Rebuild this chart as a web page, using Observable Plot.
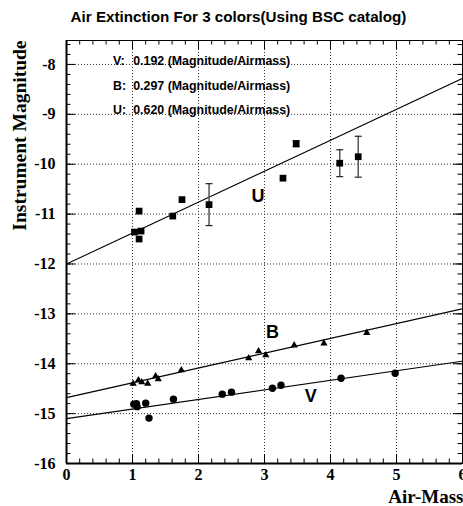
<!DOCTYPE html>
<html><head><meta charset="utf-8">
<script src="https://cdn.jsdelivr.net/npm/d3@7"></script>
<script src="https://cdn.jsdelivr.net/npm/@observablehq/plot@0.6"></script>
<style>body{margin:0;background:#fff;}</style>
</head><body><div id="chart"></div>
<script>
// ---- data ----
const uAir = [1.03, 1.10, 1.13, 1.10, 1.61, 1.75, 2.16, 3.28, 3.48, 4.14, 4.42];
const uMag = [-11.36, -10.94, -11.34, -11.50, -11.04, -10.71, -10.81, -10.28, -9.59, -9.98, -9.85];
const uErr = [0, 0, 0, 0, 0, 0, 0.42, 0, 0.06, 0.27, 0.41];
const bAir = [1.01, 1.09, 1.14, 1.23, 1.35, 1.39, 1.74, 2.76, 2.91, 3.02, 3.45, 3.90, 4.55];
const bMag = [-14.40, -14.33, -14.37, -14.40, -14.25, -14.31, -14.13, -13.89, -13.75, -13.83, -13.63, -13.59, -13.38];
const vAir = [1.02, 1.06, 1.07, 1.20, 1.25, 1.62, 2.36, 2.50, 3.12, 3.25, 4.16, 4.98];
const vMag = [-14.81, -14.80, -14.86, -14.79, -15.09, -14.71, -14.61, -14.57, -14.49, -14.43, -14.29, -14.19];
const series = ["V", "B", "U"];
const slopes = [0.192, 0.297, 0.620];
const intercepts = [-15.10, -14.68, -12.00];
const labelAir = [3.70, 3.12, 2.90];
const labelMag = [-14.65, -13.37, -10.65];
const xTicks = [0, 1, 2, 3, 4, 5, 6];
const yTicks = [-16, -15, -14, -13, -12, -11, -10, -9, -8];
const title = "Air Extinction For 3 colors(Using BSC catalog)";
const xLabel = "Air-Mass";
const yLabel = "Instrument Magnitude";
const legendUnit = "(Magnitude/Airmass)";

// ---- layout ----
const W = 463, H = 506, mL = 66, mR = 1, mT = 40, mB = 43;
const fw = W - mL - mR, fh = H - mT - mB;
const xDomain = [0, 6], yDomain = [-16, -7.52];
const serif = "Liberation Serif", sans = "Liberation Sans";

const uPts = uAir.map((a, i) => ({a, m: uMag[i], e: uErr[i]}));
const uErrPts = uPts.filter(d => d.e > 0);
const bPts = bAir.map((a, i) => ({a, m: bMag[i]}));
const vPts = vAir.map((a, i) => ({a, m: vMag[i]}));
const fitData = series.flatMap((s, i) => xDomain.map(x => ({s, x, y: intercepts[i] + slopes[i] * x})));
const labels = series.map((s, i) => ({s, a: labelAir[i], m: labelMag[i]}));

const minorX = d3.range(0, 6.0001, 0.2).map(v => +v.toFixed(2));
const minorY = d3.range(-16, -7.5, 0.2).map(v => +v.toFixed(2));
const capSymbol = {draw(ctx) { ctx.moveTo(-3.5, 0); ctx.lineTo(3.5, 0); }};
const gridX = xTicks.filter(v => v > 0 && v < 6);
const gridY = yTicks.filter(v => v > -16);

const majLen = 9, minLen = 4.5;
const tickStyle = {stroke: "black", strokeWidth: 1};
const legendRowDy = [24.5, 49.3, 73.7];
const legendStyle = {frameAnchor: "top-left", lineAnchor: "bottom", textAnchor: "start", fontFamily: sans, fontWeight: "bold", fontSize: 12.4, fill: "black"};

const legendMarks = series.flatMap((s, i) => [
  Plot.text([s + ":"], {text: d => d, dx: 46.5, dy: legendRowDy[i], ...legendStyle}),
  Plot.text([slopes[i].toFixed(3) + " " + legendUnit], {text: d => d, dx: 66.7, dy: legendRowDy[i], ...legendStyle})
]);

const plot = Plot.plot({
  width: W, height: H,
  marginLeft: mL, marginRight: mR, marginTop: mT, marginBottom: mB,
  x: {domain: xDomain},
  y: {domain: yDomain},
  style: {background: "white", overflow: "visible"},
  marks: [
    // grid
    Plot.ruleX(gridX, {x: d => d, stroke: "#333", strokeWidth: 1, strokeDasharray: "1 2"}),
    Plot.ruleY(gridY, {y: d => d, stroke: "#333", strokeWidth: 1, strokeDasharray: "1 2"}),
    // ticks (inward), bottom/top/left/right
    Plot.ruleX(xTicks, {x: d => d, insetTop: fh - majLen, ...tickStyle}),
    Plot.ruleX(minorX, {x: d => d, insetTop: fh - minLen, ...tickStyle}),
    Plot.ruleX(xTicks, {x: d => d, insetBottom: fh - majLen, ...tickStyle}),
    Plot.ruleX(minorX, {x: d => d, insetBottom: fh - minLen, ...tickStyle}),
    Plot.ruleY(yTicks, {y: d => d, insetRight: fw - majLen, ...tickStyle}),
    Plot.ruleY(minorY, {y: d => d, insetRight: fw - minLen, ...tickStyle}),
    Plot.ruleY(yTicks, {y: d => d, insetLeft: fw - majLen, ...tickStyle}),
    Plot.ruleY(minorY, {y: d => d, insetLeft: fw - minLen, ...tickStyle}),
    Plot.frame({stroke: "black", strokeWidth: 1}),
    Plot.ruleY([yDomain[0]], {y: d => d, stroke: "black", strokeWidth: 2}),
    Plot.ruleX([xDomain[0]], {x: d => d, stroke: "black", strokeWidth: 2}),
    // fit lines
    Plot.line(fitData, {x: "x", y: "y", z: "s", stroke: "black", strokeWidth: 1.1, clip: true}),
    // error bars
    Plot.ruleX(uErrPts, {x: "a", y1: d => d.m - d.e, y2: d => d.m + d.e, stroke: "#555", strokeWidth: 1.5}),
    Plot.dot(uErrPts, {x: "a", y: d => d.m - d.e, symbol: capSymbol, stroke: "#222", strokeWidth: 1.2, fill: "none"}),
    Plot.dot(uErrPts, {x: "a", y: d => d.m + d.e, symbol: capSymbol, stroke: "#222", strokeWidth: 1.2, fill: "none"}),
    // points
    Plot.dot(uPts, {x: "a", y: "m", symbol: "square", r: 3.8, fill: "black", stroke: "none"}),
    Plot.dot(bPts, {x: "a", y: "m", symbol: "triangle", r: 2.7, fill: "black", stroke: "none"}),
    Plot.dot(vPts, {x: "a", y: "m", symbol: "circle", r: 3.7, fill: "black", stroke: "none"}),
    // series labels
    Plot.text(labels, {x: "a", y: "m", text: "s", fontFamily: sans, fontWeight: "bold", fontSize: 18, fill: "black"}),
    // legend text
    ...legendMarks,
    // axes labels
    Plot.axisX({ticks: xTicks, tickSize: 0, tickPadding: 5, tickFormat: d => String(d), label: null, fontFamily: serif, fontWeight: "bold", fontSize: 16, fill: "black"}),
    Plot.axisY({ticks: yTicks, tickSize: 0, tickPadding: 11, tickFormat: d => String(d), label: null, fontFamily: serif, fontWeight: "bold", fontSize: 16, fill: "black"}),
    Plot.text([xLabel], {text: d => d, frameAnchor: "bottom-right", dx: 1, dy: 39, lineAnchor: "bottom", textAnchor: "end", fontFamily: serif, fontWeight: "bold", fontSize: 19, fill: "black"}),
    Plot.text([yLabel], {text: d => d, frameAnchor: "top-left", dx: -41, dy: 0, rotate: -90, lineAnchor: "bottom", textAnchor: "end", fontFamily: serif, fontWeight: "bold", fontSize: 19.5, fill: "black"}),
    Plot.text([title], {text: d => d, frameAnchor: "top", dx: -26, dy: -18.5, lineAnchor: "bottom", fontFamily: sans, fontWeight: "bold", fontSize: 15.2, fill: "black"})
  ]
});
document.getElementById("chart").appendChild(plot);
</script>
</body></html>
